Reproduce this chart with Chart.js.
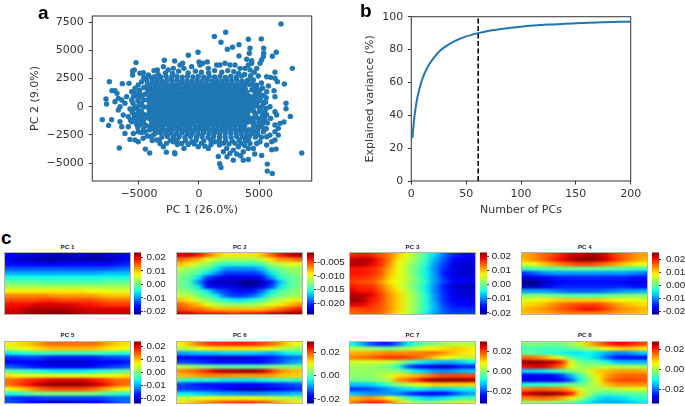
<!DOCTYPE html>
<html>
<head>
<meta charset="utf-8">
<script src="https://cdn.jsdelivr.net/npm/chart.js@4"></script>
<style>
  html, body { margin: 0; padding: 0; background: #fff; overflow: hidden; }
  canvas { position: absolute; display: block; }
  .letter { position: absolute; font: bold 19px/19px "Liberation Sans"; color: #000; }
  .hmtitle { position: absolute; width: 127px; text-align: center; font: bold 6.2px/7px "Liberation Sans"; color: #222; }
  .hmbox { position: absolute; width: 127px; height: 63px; overflow: hidden; }
  .hmbox canvas { left: -9px; top: -4.5px; filter: url(#smear); }
  .hmframe { position: absolute; left: 0; top: 0; right: 0; bottom: 0; border: 1px solid #b4b4a8; box-sizing: border-box; }
  #scatter, #curve { filter: blur(0.35px); }
</style>
</head>
<body>
<svg width="0" height="0" style="position:absolute">
  <filter id="smear" x="0" y="0" width="100%" height="100%" color-interpolation-filters="sRGB">
    <feGaussianBlur stdDeviation="3 1.3"/>
  </filter>
</svg>
<canvas id="scatter" width="340" height="225" style="left:0;top:0"></canvas>
<canvas id="curve" width="345" height="225" style="left:340px;top:0"></canvas>
<div class="letter" style="left:38px;top:3px">a</div>
<div class="letter" style="left:360px;top:1px">b</div>
<div class="letter" style="left:1px;top:228px">c</div>
<script>
// panel a, PC 1 / PC 2 scores
const scores = [
  [6830,7340],[1280,6220],[2220,6600],[1830,5710],[4110,5980],[5190,6010],[3330,5500],[4250,5180],[5390,5180],[2800,5270],
  [2360,5090],[4190,4740],[3330,4500],[-80,4820],[-890,4560],[-5250,3910],[-2890,4110],[-2030,4060],[-1360,3850],[0,3970],
  [690,3970],[6440,4820],[6110,4470],[5390,4740],[5360,4440],[5220,4140],[3970,4200],[4390,4080],[7780,3400],[6330,3050],
  [7110,2010],[7250,300],[7250,-180],[7610,-860],[7080,-1360],[8560,-4110],[6110,-5920],[5690,-5710],[5690,-5090],[1830,-5390],
  [1720,-5060],[1610,-4410],[2030,-4000],[2330,-4440],[2860,-4740],[3470,-4350],[3690,-4740],[4110,-4680],[4640,-4200],[5220,-4320],
  [6060,-3820],[6420,-3760],[-6640,-3670],[-4470,-3760],[-4110,-4110],[-2720,-4030],[-2030,-4090],[-2010,-4170],[-8060,-1150],[-7530,-1660],
  [-7280,-1150],[-7750,680],[-7700,240],[-7470,2220],[-6390,2040],[-5830,2070],[-7250,1420],[-7000,1420],[-6830,1180],[-6720,740],
  [-5530,2810],[-5530,3170],[-5390,3260],[-4920,2960],[-4640,3020],[-4220,2810],[-3750,3200],[-3470,3260],[-3670,2660],[-2970,3550],
  [-2560,3260],[-2140,3400],[-1580,3700],[-1250,3400],[-610,3550],[80,3700],[310,3850],[780,3400],[1470,3700],[1750,3700],
  [2170,3850],[2580,3700],[3000,3700],[3420,3400],[3830,3400],[4250,3260],[4810,3400],[4110,3700],[4390,3850],[5080,3850],
  [4940,2720],[5640,2660],[5970,2600],[6330,2520],[6530,2220],[5780,1840],[6250,1420],[6330,890],[5640,1330],[5080,1480],
  [4530,2370],[4110,2370],[5360,300],[5920,0],[6330,-440],[6470,-740],[5970,-1040],[5640,-740],[6330,-1630],[6750,-1480],
  [6610,-1920],[6330,-2220],[5920,-2520],[5640,-2660],[5360,-2220],[5080,-3110],[5640,-3400],[6060,-3110],[6330,-2960],[6610,-2520],
  [4810,-3260],[4250,-3260],[4110,-2960],[-3810,-2520],[-3530,-2960],[-3250,-3260],[-2970,-3550],[-2140,-3110],[-1440,-3260],[-1250,-3700],
  [-610,-3110],[-60,-3550],[780,-3700],[1330,-3110],[2310,-3700],[2860,-3850],[3280,-3550],[3690,-4000],[4110,-3700],[4530,-3700],
  [2580,-4140],[3140,-4200],[-6440,590],[-6170,300],[-6720,-300],[-6310,-740],[-6580,-1330],[-6440,-1780],[-6170,-2370],[-5750,-2900],
  [-5330,-2960],[-5060,-3110],[-5890,-1780],[-5890,-890],[-5610,-1330],[-5470,-2370],[-5060,-2220],[-6030,890],[-5610,1330],[-5330,1630],
  [-5060,1920],[-4780,2220],[-4360,2370],[-6580,0],[-7000,440],[-5610,590],[-5190,1040],
  [-4600,1700],[-4950,1450],[-4500,1100],[-5000,800],[-5300,1180],[-5450,900],[-5500,300],[-5100,520],[-5000,120],[-5750,-200],
  [-5450,-170],[-5100,-250],[-5550,-520],[-5000,-620],[-4780,-800],[-5400,-900],[-5050,-850],[-5700,-1200],[-5350,-1200],[-4950,-1200],
  [-4700,-1050],[-5200,-1550],[-4850,-1580],[-4600,-1950],[-5100,-1850],[-4800,-2300],[-4500,-2250],[-4300,-2600],[-4000,-2650],[-4650,-2800],
  [-3900,-3000],[-4600,2600],[-4300,2000],[-4200,2700],[-3900,2600],[-3400,2850],[-2800,3000],[-2200,2950],[-1700,3150],[-900,3000],
  [-300,3150],[200,3050],[800,3000],[1300,3200],[1900,3050],[2400,3200],[2900,3100],[3300,2950],[3800,2850],[4300,2750],
  [4600,3050],[4500,2000],[4800,1900],[5200,2100],[4400,1500],[4800,1650],[5300,1650],[4650,1000],[5000,800],[5350,1000],
  [5600,800],[4600,700],[4850,400],[5150,550],[5550,400],[4800,80],[5300,50],[5600,-150],[5000,-450],[4500,-120],
  [5500,-500],[4700,-800],[5300,-800],[4500,-1050],[5150,-1200],[5500,-1150],[4600,-1400],[5300,-1500],[5700,-1450],[4500,-1900],
  [5250,-1800],[5600,-1950],[4550,-2250],[4900,-2450],[4700,-2700],[5200,-2700],[4200,-2650],[3900,-2700],[-3300,-2950],[-2700,-3250],
  [-1800,-3350],[-900,-3350],[-400,-3300],[200,-3250],[500,-3500],[1000,-3350],[1700,-3400],[2050,-3250],[2500,-3300],[3000,-3250],
  [3500,-3250],[3800,-3450],
  [-3200,2640],[-2750,2700],[-2300,2610],[-1850,2680],[-1400,2620],[-950,2710],[-500,2640],[-60,2690],[400,2610],[850,2700],[1300,2640],[1750,2690],[2200,2600],[2650,2680],[3100,2620],[3550,2710],
  [-3900,2290],[-3480,2340],[-3060,2260],[-2650,2320],[-2230,2280],[-1820,2350],[-1400,2270],[-990,2310],[-580,2260],[-160,2330],[250,2280],[670,2340],[1080,2270],[1500,2310],[1910,2260],[2330,2330],[2740,2280],[3160,2340],[3570,2270],[3990,2300],
  [-4040,1920],[-3680,1990],[-3320,1940],[-2960,1980],[-2610,1910],[-2250,1960],[-1900,1930],[-1530,2000],[-1180,1920],[-820,1970],[-470,1940],[-110,1990],[240,1920],[600,1960],[950,1930],[1310,1990],[1660,1930],[2020,1970],[2380,1910],[2730,1960],[3090,1930],[3450,1980],[3800,1920],[4200,1960],
  [-4310,1640],[-3980,1570],[-3620,1620],[-3290,1590],[-2940,1640],[-2610,1570],[-2270,1610],[-1930,1590],[-1590,1650],[-1250,1580],[-910,1620],[-570,1570],[-230,1630],[110,1590],[450,1640],[790,1570],[1130,1610],[1470,1590],[1810,1640],[2150,1570],[2490,1620],[2830,1590],[3170,1640],[3510,1570],[3850,1610],[4560,1640],
  [-4980,1290],[-4270,1310],[-3950,1260],[-3600,1230],[-3270,1300],[-2940,1250],[-2610,1290],[-2280,1230],[-1950,1280],[-1620,1250],[-1290,1310],[-960,1240],[-630,1280],[-300,1230],[30,1300],[360,1250],[690,1280],[1020,1230],[1350,1300],[1680,1250],[2010,1290],[2340,1230],[2670,1280],[3000,1250],[3330,1310],[3660,1240],[3990,1280],[4680,1290],[5010,1200],
  [-4790,970],[-4120,960],[-3790,930],[-3450,970],[-3120,910],[-2790,950],[-2460,920],[-2120,980],[-1790,910],[-1460,960],[-1120,930],[-790,970],[-460,910],[-130,950],[210,920],[540,980],[870,910],[1210,960],[1540,930],[1870,970],[2210,910],[2540,950],[2870,920],[3210,980],[3540,910],[3870,960],[4210,930],[4880,910],
  [-4610,590],[-4280,620],[-3950,650],[-3620,590],[-3280,630],[-2950,600],[-2620,650],[-2290,590],[-1950,620],[-1620,600],[-1290,650],[-960,590],[-620,630],[-290,600],[40,650],[370,590],[710,620],[1040,600],[1370,650],[1700,590],[2040,630],[2370,600],[2700,650],[3030,590],[3370,620],[3700,600],[4030,650],[4360,590],[5030,600],
  [-4800,270],[-4130,330],[-3790,270],[-3460,310],[-3130,280],[-2790,330],[-2460,270],[-2130,300],[-1790,280],[-1460,330],[-1130,270],[-790,310],[-460,280],[-130,330],[210,270],[540,300],[870,280],[1210,330],[1540,270],[1870,310],[2210,280],[2540,330],[2870,270],[3210,300],[3540,280],[3870,330],[4210,270],[4540,310],
  [-5320,-30],[-4620,0],[-4290,-40],[-3950,-70],[-3620,-10],[-3290,-50],[-2950,-20],[-2620,-70],[-2290,-10],[-1950,-40],[-1620,-70],[-1290,0],[-950,-50],[-620,-20],[-290,-70],[40,-10],[370,-40],[710,-70],[1040,0],[1370,-50],[1700,-20],[2040,-70],[2370,-10],[2700,-40],[3030,-70],[3370,0],[3700,-50],[4030,-20],[4360,-70],[5030,-40],
  [-4800,-390],[-4130,-380],[-3790,-350],[-3460,-400],[-3130,-330],[-2790,-370],[-2460,-340],[-2130,-400],[-1790,-330],[-1460,-380],[-1130,-350],[-790,-390],[-460,-330],[-130,-370],[210,-340],[540,-400],[870,-330],[1210,-380],[1540,-350],[1870,-390],[2210,-330],[2540,-370],[2870,-340],[3210,-400],[3540,-330],[3870,-380],[4210,-350],[4540,-390],[5200,-370],
  [-5330,-690],[-4620,-670],[-4290,-730],[-3950,-680],[-3620,-710],[-3290,-660],[-2950,-720],[-2620,-690],[-2290,-730],[-1950,-670],[-1620,-710],[-1290,-680],[-950,-730],[-620,-660],[-290,-700],[40,-690],[370,-730],[710,-670],[1040,-710],[1370,-680],[1700,-730],[2040,-660],[2370,-700],[2700,-690],[3030,-730],[3370,-670],[3700,-710],[4030,-680],[4700,-660],
  [-5150,-1010],[-4460,-1000],[-4130,-1040],[-3790,-1020],[-3460,-1060],[-3130,-990],[-2790,-1030],[-2460,-1010],[-2130,-1060],[-1790,-1000],[-1460,-1040],[-1130,-1010],[-790,-1050],[-460,-990],[-130,-1030],[210,-1010],[540,-1060],[870,-1000],[1210,-1040],[1540,-1020],[1870,-1050],[2210,-990],[2540,-1030],[2870,-1010],[3210,-1060],[3540,-1000],[3870,-1040],[4210,-1010],[4870,-990],[5240,-1030],
  [-4620,-1380],[-3950,-1390],[-3620,-1340],[-3290,-1370],[-2950,-1320],[-2620,-1380],[-2290,-1350],[-1950,-1390],[-1620,-1330],[-1290,-1370],[-950,-1340],[-620,-1390],[-290,-1320],[40,-1360],[370,-1350],[710,-1390],[1040,-1330],[1370,-1370],[1700,-1340],[2040,-1390],[2370,-1320],[2700,-1360],[3030,-1350],[3370,-1390],[3700,-1330],[4030,-1370],[4360,-1340],[5030,-1320],
  [-4420,-1660],[-4060,-1720],[-3680,-1680],[-3300,-1710],[-2930,-1650],[-2550,-1700],[-2180,-1670],[-1800,-1730],[-1430,-1660],[-1050,-1690],[-680,-1650],[-300,-1720],[70,-1680],[440,-1710],[820,-1650],[1190,-1700],[1570,-1670],[1940,-1730],[2320,-1660],[2690,-1690],[3060,-1650],[3440,-1720],[3810,-1680],[4560,-1650],[4940,-1700],
  [-4120,-2060],[-3740,-2000],[-3360,-2050],[-2990,-2010],[-2610,-2070],[-2240,-2000],[-1860,-2040],[-1490,-2020],[-1110,-2060],[-740,-2000],[-360,-2050],[10,-2010],[390,-2070],[760,-2000],[1140,-2040],[1510,-2020],[1890,-2060],[2260,-2000],[2640,-2050],[3010,-2010],[3390,-2070],[3760,-2000],[4140,-2040],[4890,-2060],
  [-3640,-2360],[-3220,-2320],[-2770,-2380],[-2320,-2340],[-1870,-2390],[-1420,-2310],[-970,-2370],[-520,-2340],[-70,-2390],[380,-2320],[830,-2370],[1280,-2340],[1730,-2390],[2180,-2320],[2630,-2370],[3080,-2340],[3530,-2390],[3980,-2320],[4430,-2370],
  [-3090,-2690],[-2620,-2650],[-2130,-2710],[-1660,-2670],[-1170,-2720],[-700,-2640],[-210,-2700],[260,-2660],[750,-2720],[1220,-2650],[1710,-2700],[2180,-2670],[2670,-2720],[3140,-2650],[3630,-2700],
  [-2390,-3010],[-1820,-2980],[-1120,-3020],[-240,-2970],[400,-3030],[980,-2980],[1690,-3020],[2220,-2990],[2780,-3050],[3350,-2980],[3880,-3040]
];
const pc1Ticks = [-5000, 0, 5000];
const pc2Ticks = [-5000, -2500, 0, 2500, 5000, 7500];

// panel b
const nPCs = [1, 2, 3, 5, 7, 10, 15, 20, 25, 30, 40, 50, 61, 70, 80, 100, 125, 150, 175, 200];
const explained = [26, 34, 40, 49, 55, 62, 69.5, 74.5, 78.5, 81.3, 85.3, 88, 90, 91.3, 92.3, 93.9, 95.2, 96, 96.6, 97];
const cutoffPC = 61;
const pcCountTicks = [0, 50, 100, 150, 200];
const varianceTicks = [0, 20, 40, 60, 80, 100];

// panel c, loadings, in units of 0.001 (top row first)
const pcGrid1 = [
  [-17,-18,-18,-19,-19,-20,-20,-19,-19,-20,-20,-19,-18,-17],
  [-18,-19,-20,-20,-21,-21,-20,-20,-20,-21,-21,-20,-19,-18],
  [-16,-17,-17,-17,-18,-18,-17,-17,-17,-17,-17,-17,-16,-15],
  [-13,-13,-13,-13,-13,-13,-13,-13,-13,-13,-13,-13,-12,-12],
  [-9,-9,-9,-9,-9,-9,-9,-9,-9,-9,-9,-8,-8,-8],
  [-5,-5,-5,-5,-5,-5,-5,-5,-5,-5,-5,-5,-5,-5],
  [-1,-1,-1,-1,-2,-2,-2,-2,-2,-2,-2,-1,-1,-1],
  [3,3,3,3,3,3,3,3,3,3,3,3,3,3],
  [8,8,8,8,8,8,8,8,8,7,7,7,6,6],
  [13,13,13,13,13,12,12,12,12,12,11,10,10,10],
  [16,16,16,16,17,17,16,16,16,16,15,14,14,14],
  [19,19,19,20,20,20,20,20,19,19,18,17,17,17],
  [20,20,21,22,22,22,22,21,21,20,20,20,20,20],
  [21,21,22,23,24,24,24,23,22,21,21,21,21,21]
];
const pcGrid2 = [
  [-3,-3,-4,-6,-8,-9,-9,-9,-9,-8,-6,-4,-3,-2],
  [-6,-7,-8,-10,-11,-12,-12,-12,-12,-11,-9,-7,-7,-6],
  [-8,-9,-11,-12,-14,-15,-15,-15,-15,-14,-12,-11,-10,-10],
  [-11,-12,-13,-14,-16,-18,-18,-18,-18,-17,-14,-13,-12,-12],
  [-12,-13,-14,-16,-18,-20,-20,-20,-20,-19,-16,-14,-13,-12],
  [-13,-14,-16,-20,-21,-22,-22,-22,-22,-21,-18,-15,-14,-13],
  [-13,-14,-18,-22,-23,-23,-23,-24,-24,-23,-21,-17,-14,-13],
  [-13,-14,-16,-21,-22,-22,-22,-23,-23,-22,-20,-16,-14,-13],
  [-12,-13,-14,-16,-19,-20,-21,-21,-21,-19,-16,-14,-13,-12],
  [-11,-11,-13,-14,-16,-19,-20,-20,-19,-17,-14,-13,-12,-12],
  [-8,-9,-11,-12,-14,-15,-16,-16,-15,-14,-12,-11,-10,-9],
  [-6,-7,-8,-10,-11,-12,-12,-12,-12,-11,-10,-9,-8,-7],
  [-5,-6,-6,-7,-8,-8,-8,-8,-8,-8,-7,-6,-5,-4],
  [-3,-3,-4,-4,-4,-4,-5,-4,-4,-4,-3,-3,-2,-2]
];
const pcGrid3 = [
  [17,18,17,15,13,9,6,2,-2,-6,-11,-14,-15,-16],
  [20,21,20,17,13,8,5,1,-3,-8,-12,-16,-17,-17],
  [21,21,19,17,12,7,4,0,-4,-9,-13,-17,-18,-18],
  [18,18,17,15,11,7,3,-1,-5,-10,-14,-17,-18,-18],
  [18,18,17,15,10,7,3,-1,-5,-9,-15,-17,-18,-18],
  [17,17,16,14,9,6,4,0,-5,-9,-14,-17,-17,-17],
  [16,15,15,12,8,7,3,0,-4,-9,-13,-16,-17,-17],
  [18,17,17,14,10,6,3,-1,-5,-10,-15,-18,-19,-19],
  [19,18,18,15,11,8,4,0,-5,-10,-14,-17,-18,-18],
  [21,21,19,16,12,9,5,1,-4,-9,-14,-17,-18,-18],
  [22,21,18,16,12,9,5,1,-4,-9,-14,-16,-17,-17],
  [19,19,17,15,12,9,5,1,-4,-8,-13,-15,-16,-16],
  [15,16,16,15,12,9,5,1,-4,-8,-12,-14,-14,-14],
  [14,15,15,14,11,8,4,0,-5,-9,-12,-13,-13,-13]
];
const pcGrid4 = [
  [13,14,16,18,20,22,23,24,23,21,18,16,14,13],
  [12,14,16,19,21,23,25,25,24,22,19,16,14,12],
  [7,8,11,13,15,17,18,18,17,15,13,11,9,8],
  [-2,-2,-1,-1,0,0,0,0,0,0,-1,-1,-2,-2],
  [-14,-12,-10,-9,-9,-9,-9,-9,-9,-9,-9,-9,-10,-11],
  [-19,-18,-17,-16,-15,-15,-15,-15,-15,-15,-15,-15,-16,-16],
  [-22,-22,-20,-18,-17,-16,-16,-16,-16,-16,-16,-17,-18,-18],
  [-20,-20,-18,-16,-15,-15,-15,-15,-15,-15,-15,-15,-16,-16],
  [-9,-9,-9,-10,-11,-12,-12,-12,-12,-11,-10,-9,-9,-8],
  [2,2,2,1,0,-1,-1,-1,-1,0,1,2,2,2],
  [7,8,9,10,11,11,11,11,11,10,9,8,8,7],
  [10,11,12,14,16,17,18,18,18,16,14,12,11,10],
  [12,13,14,15,17,18,20,21,20,18,15,14,13,12],
  [11,12,12,13,14,15,15,15,15,14,13,12,12,11]
];
const pcGrid5 = [
  [7,8,9,11,13,14,14,14,14,14,13,11,9,8],
  [4,5,6,8,9,10,10,10,10,10,9,8,7,6],
  [-7,-6,-5,-4,-4,-4,-4,-4,-4,-4,-4,-4,-5,-5],
  [-16,-16,-15,-15,-16,-17,-17,-17,-17,-17,-16,-15,-15,-14],
  [-18,-18,-18,-19,-20,-21,-21,-21,-21,-20,-19,-18,-18,-17],
  [-14,-15,-16,-17,-18,-19,-19,-19,-19,-18,-17,-16,-15,-14],
  [-2,-3,-4,-5,-6,-7,-7,-7,-7,-6,-5,-4,-3,-2],
  [8,7,6,6,6,6,6,6,6,6,6,6,7,8],
  [14,15,17,18,19,20,20,20,20,19,18,16,14,14],
  [14,16,18,20,22,23,23,23,23,22,20,18,15,14],
  [6,8,10,13,15,16,16,16,16,15,13,10,8,7],
  [-6,-5,-3,-1,0,0,0,0,0,0,-1,-3,-4,-5],
  [-15,-16,-16,-16,-15,-15,-15,-15,-15,-15,-15,-14,-13,-13],
  [-14,-15,-17,-19,-20,-21,-21,-21,-20,-19,-18,-16,-14,-13]
];
const pcGrid6 = [
  [11,14,18,21,22,22,23,23,22,21,19,16,12,10],
  [6,7,9,11,12,12,12,12,12,11,9,7,5,4],
  [-9,-8,-7,-7,-7,-6,-6,-6,-6,-7,-8,-6,-4,-3],
  [-17,-17,-18,-19,-20,-20,-20,-20,-19,-18,-16,-14,-12,-11],
  [-14,-14,-15,-16,-17,-17,-17,-17,-17,-17,-15,-13,-10,-8],
  [7,5,3,2,1,0,0,0,0,1,2,3,3,3],
  [17,18,20,23,26,27,27,28,28,27,22,17,15,14],
  [14,15,16,17,17,17,16,16,16,16,16,14,13,13],
  [-2,-3,-4,-3,-4,-5,-5,-5,-5,-4,-3,-2,-2,-2],
  [-14,-15,-16,-17,-17,-17,-18,-18,-18,-17,-16,-15,-14,-13],
  [-14,-14,-15,-15,-16,-17,-19,-21,-21,-21,-19,-17,-16,-15],
  [-5,-5,-6,-7,-8,-9,-9,-10,-10,-10,-9,-9,-8,-7],
  [7,8,9,10,10,10,10,10,10,9,8,7,6,5],
  [11,13,15,17,19,20,21,22,21,20,18,15,13,11]
];
const pcGrid7 = [
  [-9,-14,-19,-22,-22,-17,-10,-6,-2,0,2,3,4,3],
  [4,3,1,0,-1,1,3,5,8,9,10,11,11,9],
  [13,13,14,15,16,16,16,16,17,17,15,12,10,9],
  [16,17,18,20,21,21,20,18,15,11,8,6,4,4],
  [5,6,6,6,5,2,-3,-8,-10,-12,-13,-13,-11,-9],
  [2,2,1,0,-2,-8,-18,-23,-24,-26,-28,-26,-22,-22],
  [1,1,1,1,1,0,-5,-10,-12,-15,-16,-15,-13,-12],
  [0,1,1,3,6,10,11,13,15,18,20,20,20,20],
  [-2,-2,-1,0,4,15,18,21,26,29,29,29,29,28],
  [-12,-12,-11,-9,-5,0,4,6,9,11,11,11,11,10],
  [-21,-20,-19,-17,-14,-12,-10,-9,-10,-11,-11,-10,-9,-9],
  [-12,-14,-15,-15,-15,-16,-20,-23,-24,-25,-24,-20,-16,-14],
  [12,14,15,12,8,2,-5,-9,-11,-11,-10,-8,-6,-5],
  [16,20,22,22,18,11,5,2,0,1,3,5,6,6]
];
const pcGrid8 = [
  [-3,-3,-3,-4,-3,-1,3,10,14,19,22,22,20,18],
  [-7,-7,-8,-8,-7,-6,-4,-1,2,6,8,9,9,7],
  [-5,-6,-8,-9,-11,-12,-12,-11,-13,-16,-18,-18,-16,-14],
  [16,15,12,8,3,-5,-10,-11,-14,-20,-25,-26,-26,-26],
  [27,27,26,25,20,6,-4,-5,-6,-10,-14,-15,-15,-15],
  [22,23,23,20,15,5,0,-1,0,2,1,0,0,-1],
  [-14,-13,-12,-10,-7,-3,-1,4,9,10,12,12,12,11],
  [-27,-28,-28,-27,-23,-15,-8,-1,7,12,15,16,16,16],
  [-29,-29,-29,-28,-26,-21,-11,-3,6,14,17,18,18,17],
  [-10,-10,-9,-8,-6,-4,-4,-1,3,10,13,13,13,13],
  [14,16,16,15,14,10,3,0,0,1,2,3,4,4],
  [23,26,27,27,25,21,8,0,-6,-7,-7,-6,-5,-5],
  [14,15,16,15,12,7,1,-6,-12,-14,-13,-12,-10,-9],
  [-1,-1,-1,-2,-3,-4,-8,-12,-15,-16,-16,-15,-13,-12]
];
const pcGrids = [pcGrid1, pcGrid2, pcGrid3, pcGrid4, pcGrid5, pcGrid6, pcGrid7, pcGrid8];
const pcTitles = ['PC 1', 'PC 2', 'PC 3', 'PC 4', 'PC 5', 'PC 6', 'PC 7', 'PC 8'];
const cbMins = [-22.4, -24.1, -21.2, -22.5, -24, -24, -31.8, -34.2];
const cbMaxs = [23.7, -1.4, 22.8, 25.6, 23.8, 29.6, 30.1, 28.2];
const cbTicks = [
  [-20, -10, 0, 10, 20],
  [-20, -15, -10, -5],
  [-20, -10, 0, 10, 20],
  [-20, -10, 0, 10, 20],
  [-20, -10, 0, 10, 20],
  [-20, 0, 20],
  [-20, 0, 20],
  [-20, 0, 20]
];
const cbDigits = [2, 3, 2, 2, 2, 2, 2, 2];

// where the small panels go on the page
const hmLefts = [4, 176.3, 349, 521.3];
const cbLefts = [134, 306.7, 479.7, 651.7];
const hmTops = [252, 341];
const titleTops = [242.5, 331];
const cbAxisWidths = [24.7, 30.7, 24, 26.3, 24.7, 25.7, 24.7, 25.3];

const tickGrey = '#333';
Chart.defaults.font.family = '"DejaVu Sans"';
Chart.defaults.font.size = 11;
Chart.defaults.color = tickGrey;
Chart.defaults.animation = false;
Chart.defaults.responsive = false;
Chart.defaults.events = [];
Chart.defaults.plugins.legend.display = false;
Chart.defaults.plugins.tooltip.enabled = false;

const framePlugin = {
  id: 'frame',
  afterDraw(chart) {
    const a = chart.chartArea, c = chart.ctx;
    c.save();
    c.strokeStyle = '#444';
    c.lineWidth = 1.1;
    c.strokeRect(a.left, a.top, a.right - a.left, a.bottom - a.top);
    c.restore();
  }
};

const useTicks = list => s => { s.ticks = list.map(v => ({ value: v })); };
const minus = v => String(v).replace('-', '\u2212');

function mainAxis(min, max, ticks, title, fit, titlePad, tickPad) {
  return {
    type: 'linear', min, max,
    afterBuildTicks: useTicks(ticks),
    afterFit: fit,
    border: { display: false },
    grid: { drawOnChartArea: false, color: tickGrey, tickLength: 3.5, lineWidth: 1 },
    ticks: { padding: tickPad, maxRotation: 0, autoSkip: false, callback: minus },
    title: { display: true, text: title, color: tickGrey, padding: titlePad }
  };
}

new Chart(document.getElementById('scatter'), {
  type: 'scatter',
  data: { datasets: [{
    data: scores.map(p => ({ x: p[0], y: p[1] })),
    backgroundColor: '#1f77b4', borderWidth: 0, pointRadius: 2.7
  }] },
  options: {
    clip: false,
    layout: { padding: { left: 0, top: 16, right: 28.3, bottom: 0 } },
    scales: {
      x: mainAxis(-8890, 9390, pc1Ticks, 'PC 1 (26.0%)', s => { s.height = 44; }, { top: 0, bottom: 8 }, 3),
      y: mainAxis(-6590, 8040, pc2Ticks, 'PC 2 (9.0%)', s => { s.width = 92.3; }, { top: 28.4, bottom: 0 }, 5)
    }
  },
  plugins: [framePlugin]
});

new Chart(document.getElementById('curve'), {
  type: 'line',
  data: { datasets: [
    {
      data: nPCs.map((n, i) => ({ x: n, y: explained[i] })),
      borderColor: '#1f77b4', borderWidth: 2, pointRadius: 0, cubicInterpolationMode: 'monotone'
    },
    {
      data: [{ x: cutoffPC, y: 0 }, { x: cutoffPC, y: 100 }],
      borderColor: '#000', borderWidth: 1.6, borderDash: [5, 2.5], pointRadius: 0
    }
  ] },
  options: {
    layout: { padding: { left: 0, top: 16.7, right: 54.3, bottom: 0 } },
    scales: {
      x: mainAxis(0, 200, pcCountTicks, 'Number of PCs', s => { s.height = 44; }, { top: 0, bottom: 8 }, 3),
      y: mainAxis(0, 100, varianceTicks, 'Explained variance (%)', s => { s.width = 71.3; }, { top: 23.4, bottom: 0 }, 4.5)
    }
  },
  plugins: [framePlugin]
});

// jet colour map
const jetR = [[0, 0], [0.35, 0], [0.66, 1], [0.89, 1], [1, 0.5]];
const jetG = [[0, 0], [0.125, 0], [0.375, 1], [0.64, 1], [0.91, 0], [1, 0]];
const jetB = [[0, 0.5], [0.11, 1], [0.34, 1], [0.65, 0], [1, 0]];
function channel(stops, t) {
  for (let i = 1; i < stops.length; i++) {
    if (t <= stops[i][0]) {
      const a = stops[i - 1], b = stops[i];
      return Math.round(255 * (a[1] + (b[1] - a[1]) * (t - a[0]) / (b[0] - a[0])));
    }
  }
  return Math.round(255 * stops[stops.length - 1][1]);
}
function jet(t) {
  t = Math.min(1, Math.max(0, t));
  return `rgb(${channel(jetR, t)},${channel(jetG, t)},${channel(jetB, t)})`;
}

function addCanvas(parent, w, h, left, top) {
  const cv = document.createElement('canvas');
  cv.width = w;
  cv.height = h;
  if (left !== null) {
    cv.style.left = left + 'px';
    cv.style.top = top + 'px';
  }
  parent.appendChild(cv);
  return cv;
}

function drawHeatmap(k) {
  const left = hmLefts[k % 4], top = hmTops[k < 4 ? 0 : 1];
  const grid = pcGrids[k], lo = cbMins[k], hi = cbMaxs[k];

  const title = document.createElement('div');
  title.className = 'hmtitle';
  title.style.left = left + 'px';
  title.style.top = titleTops[k < 4 ? 0 : 1] + 'px';
  title.textContent = pcTitles[k];
  document.body.appendChild(title);

  const box = document.createElement('div');
  box.className = 'hmbox';
  box.style.left = left + 'px';
  box.style.top = top + 'px';
  document.body.appendChild(box);

  // edge cells repeated outside the box so the smear does not fade at the border
  const padded = [grid[0], ...grid, grid[grid.length - 1]].map(r => [r[0], ...r, r[r.length - 1]]);
  new Chart(addCanvas(box, 145, 72, null), {
    type: 'bar',
    data: {
      labels: padded[0].map((_, i) => i),
      datasets: padded.map(row => ({
        data: row.map(() => 1),
        backgroundColor: row.map(v => jet((v - lo) / (hi - lo))),
        barPercentage: 1, categoryPercentage: 1, borderWidth: 0
      }))
    },
    options: {
      scales: {
        x: { stacked: true, display: false },
        y: { stacked: true, display: false, reverse: true, min: 0, max: padded.length }
      }
    }
  });
  const frame = document.createElement('div');
  frame.className = 'hmframe';
  box.appendChild(frame);

  // colour bar
  const axisWidth = cbAxisWidths[k];
  new Chart(addCanvas(document.body, 46, 75, cbLefts[k % 4], top - 6), {
    type: 'bar',
    data: {
      labels: ['bar'],
      datasets: [{
        data: [[lo, hi]],
        barPercentage: 1, categoryPercentage: 1, borderWidth: 0,
        backgroundColor(ctx) {
          const a = ctx.chart.chartArea;
          if (!a) return '#fff';
          const g = ctx.chart.ctx.createLinearGradient(0, a.bottom, 0, a.top);
          for (let i = 0; i <= 20; i++) g.addColorStop(i / 20, jet(i / 20));
          return g;
        }
      }]
    },
    options: {
      layout: { padding: { top: 6, bottom: 6, right: 46 - 7 - axisWidth } },
      scales: {
        x: { display: false },
        y: {
          position: 'right', min: lo, max: hi,
          afterBuildTicks: useTicks(cbTicks[k]),
          afterFit: s => { s.width = axisWidth; },
          border: { display: false },
          grid: { drawOnChartArea: false, tickLength: 2, color: '#333' },
          ticks: {
            padding: 0.5, crossAlign: 'far', color: '#222', autoSkip: false,
            font: { family: '"Liberation Sans"', size: 9.9 },
            callback: v => (v / 1000).toFixed(cbDigits[k])
          }
        }
      }
    }
  });
}

pcGrids.forEach((_, k) => drawHeatmap(k));
</script>
</body>
</html>
